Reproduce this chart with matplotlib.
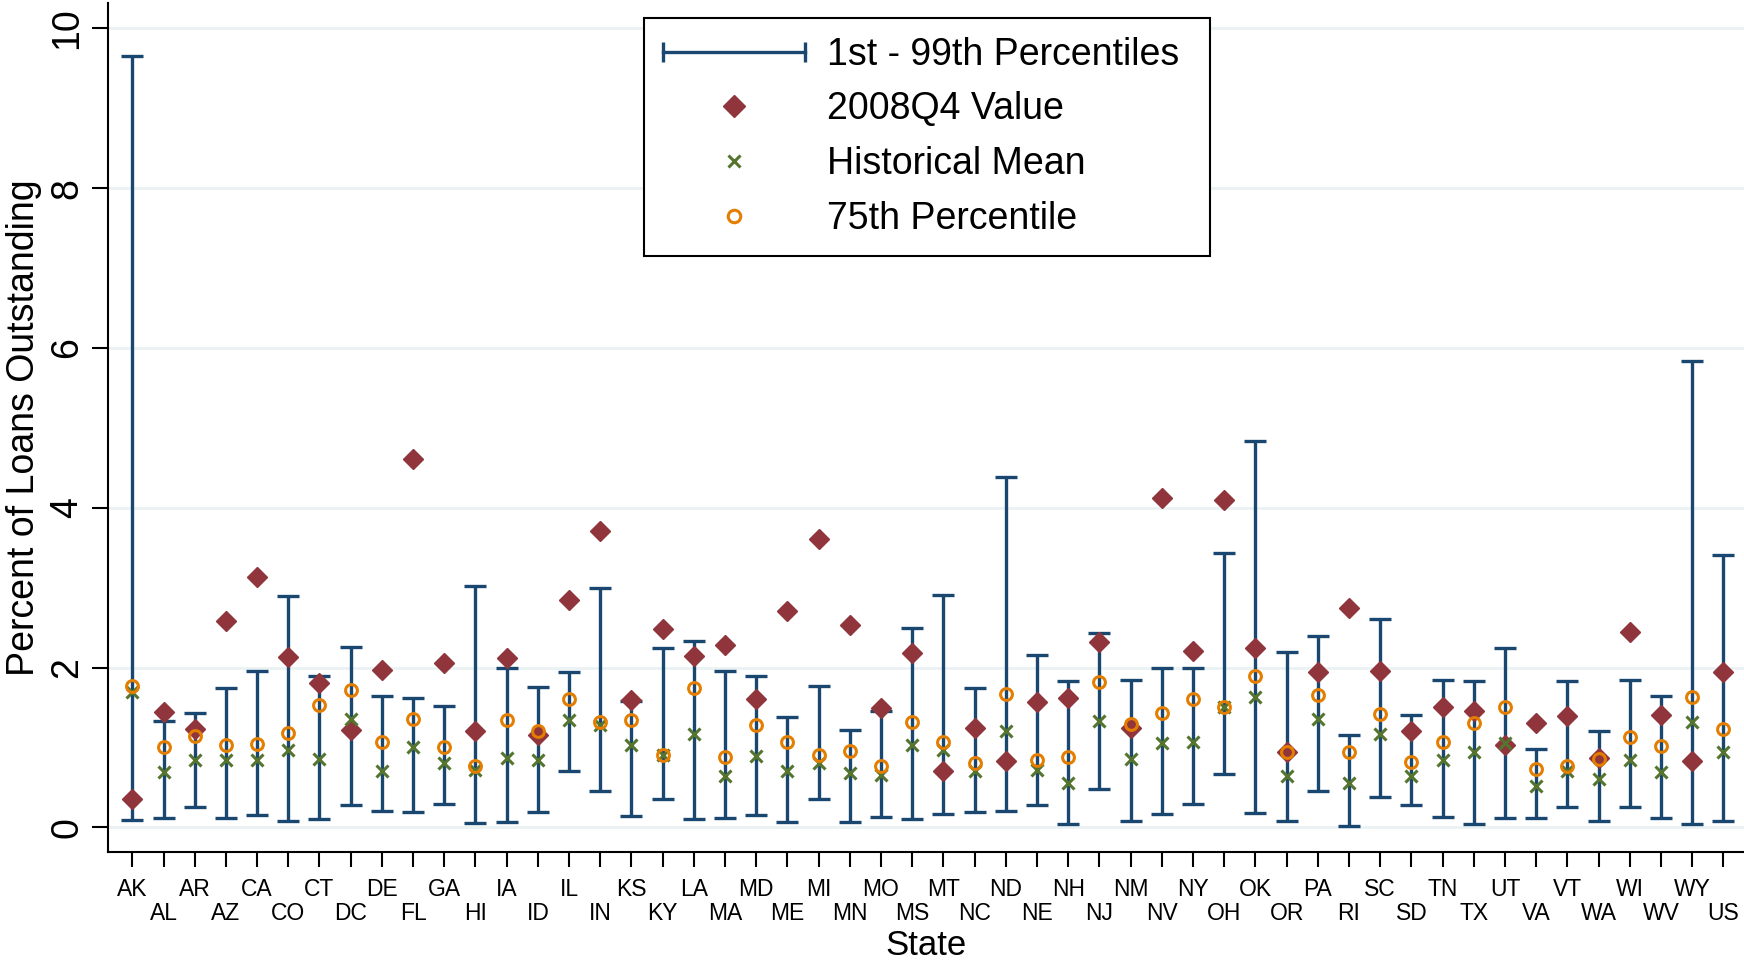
import numpy as np
import matplotlib
matplotlib.use("Agg")
import matplotlib.pyplot as plt
from matplotlib.lines import Line2D
from matplotlib.legend_handler import HandlerLine2D

plt.rcParams['font.family'] = ['Liberation Sans', 'DejaVu Sans']

# Estados (ordem do eixo x)
states = ['AK', 'AL', 'AR', 'AZ', 'CA', 'CO', 'CT', 'DC', 'DE', 'FL', 'GA', 'HI', 'IA',
          'ID', 'IL', 'IN', 'KS', 'KY', 'LA', 'MA', 'MD', 'ME', 'MI', 'MN', 'MO', 'MS',
          'MT', 'NC', 'ND', 'NE', 'NH', 'NJ', 'NM', 'NV', 'NY', 'OH', 'OK', 'OR', 'PA',
          'RI', 'SC', 'SD', 'TN', 'TX', 'UT', 'VA', 'VT', 'WA', 'WI', 'WV', 'WY', 'US']

# Percentil 99 (topo da barra)
p99 = [9.65, 1.33, 1.43, 1.74, 1.96, 2.89, 1.90, 2.26, 1.64, 1.62, 1.52, 3.02, 2.00,
       1.76, 1.94, 2.99, 1.58, 2.24, 2.33, 1.96, 1.90, 1.38, 1.77, 1.22, 1.46, 2.49,
       2.91, 1.74, 4.39, 2.16, 1.83, 2.43, 1.84, 2.00, 2.00, 3.43, 4.84, 2.19, 2.40,
       1.15, 2.61, 1.40, 1.84, 1.83, 2.25, 0.98, 1.83, 1.21, 1.85, 1.64, 5.84, 3.41]
# Percentil 1 (base da barra)
p1 = [0.09, 0.12, 0.25, 0.12, 0.15, 0.08, 0.10, 0.28, 0.21, 0.19, 0.29, 0.05, 0.07,
      0.19, 0.70, 0.45, 0.14, 0.36, 0.10, 0.12, 0.15, 0.07, 0.35, 0.07, 0.13, 0.10,
      0.17, 0.19, 0.21, 0.28, 0.04, 0.48, 0.08, 0.17, 0.29, 0.67, 0.18, 0.08, 0.45,
      0.02, 0.38, 0.28, 0.13, 0.04, 0.12, 0.12, 0.25, 0.08, 0.26, 0.12, 0.04, 0.08]
# Valor 2008Q4
q4_2008 = [0.35, 1.44, 1.23, 2.58, 3.13, 2.13, 1.81, 1.22, 1.97, 4.61, 2.06, 1.21, 2.12,
           1.16, 2.85, 3.71, 1.59, 2.48, 2.14, 2.28, 1.60, 2.71, 3.61, 2.53, 1.49, 2.18,
           0.71, 1.24, 0.83, 1.57, 1.62, 2.32, 1.24, 4.12, 2.21, 4.10, 2.25, 0.94, 1.95,
           2.75, 1.96, 1.21, 1.50, 1.45, 1.03, 1.30, 1.39, 0.87, 2.45, 1.40, 0.83, 1.94]
# Média histórica
hist_mean = [1.70, 0.69, 0.84, 0.84, 0.84, 0.97, 0.86, 1.35, 0.71, 1.00, 0.81, 0.72, 0.87,
             0.84, 1.34, 1.28, 1.03, 0.91, 1.17, 0.64, 0.89, 0.71, 0.81, 0.68, 0.65, 1.03,
             0.97, 0.70, 1.20, 0.72, 0.56, 1.33, 0.86, 1.06, 1.07, 1.50, 1.63, 0.64, 1.35,
             0.56, 1.17, 0.64, 0.84, 0.94, 1.05, 0.52, 0.70, 0.61, 0.84, 0.69, 1.32, 0.94]
# Percentil 75
p75 = [1.77, 1.00, 1.14, 1.03, 1.04, 1.18, 1.53, 1.72, 1.07, 1.35, 1.01, 0.77, 1.34,
       1.20, 1.61, 1.32, 1.34, 0.91, 1.74, 0.88, 1.28, 1.07, 0.91, 0.95, 0.77, 1.32,
       1.07, 0.81, 1.67, 0.84, 0.88, 1.82, 1.29, 1.43, 1.60, 1.50, 1.90, 0.94, 1.66,
       0.94, 1.42, 0.82, 1.07, 1.30, 1.51, 0.73, 0.77, 0.86, 1.13, 1.02, 1.63, 1.23]

navy = '#1a476f'
maroon = '#90353b'
green = '#55752f'
orange = '#e37e00'
grid_color = '#eaf2f3'

x = np.arange(len(states))
p1 = np.array(p1)
p99 = np.array(p99)

fig = plt.figure(figsize=(17.44, 9.61), dpi=100)
ax = fig.add_axes([108 / 1744, 1 - 851.7 / 961, 1 - 108 / 1744, (851.7 - 3) / 961])

# Barras de percentis 1-99
ax.errorbar(x, p1, yerr=[np.zeros_like(p1), p99 - p1], fmt='none', ecolor=navy,
            elinewidth=2.4, capsize=8, capthick=2.4, zorder=3)
ax.plot(x, q4_2008, linestyle='none', marker='D', markersize=10, color=maroon, zorder=4)
ax.plot(x, hist_mean, linestyle='none', marker='x', markersize=8, mew=2.2, color=green, zorder=5)
ax.plot(x, p75, linestyle='none', marker='o', markersize=8.5, mew=2.2, mfc='none', mec=orange, zorder=6)

# Eixos
ax.set_xlim(-0.779, 51.66)
ax.set_ylim(-0.305, 10.317)
ax.set_yticks(np.arange(0, 11, 2))
ax.yaxis.grid(True, color=grid_color, linewidth=2)
ax.set_axisbelow(True)
for s in ['top', 'right']:
    ax.spines[s].set_visible(False)
for s in ['left', 'bottom']:
    ax.spines[s].set_linewidth(1.5)

ax.set_xticks(x[::2])
ax.set_xticklabels(states[::2])
ax.set_xticks(x[1::2], minor=True)
ax.set_xticklabels(states[1::2], minor=True)
ax.tick_params(axis='x', which='major', length=11, width=1.5, pad=8, labelsize=16.5)
ax.tick_params(axis='x', which='minor', length=11, width=1.5, pad=25, labelsize=16.5)
ax.tick_params(axis='y', length=11.5, width=1.5, pad=5, labelsize=27, labelrotation=90)
for lab in ax.get_yticklabels():
    lab.set_va('center')

ax.set_ylabel('Percent of Loans Outstanding', fontsize=27)
ax.yaxis.set_label_coords(-0.0403, 0.5)
ax.set_xlabel('State', fontsize=25)
ax.xaxis.set_label_coords(0.5, -0.091)

# Legenda
h_bar = Line2D([], [], color=navy, lw=2.4, marker='|', markersize=14, mew=2.4)
h_q4 = Line2D([], [], linestyle='none', marker='D', markersize=11, color=maroon)
h_mean = Line2D([], [], linestyle='none', marker='x', markersize=8, mew=2.2, color=green)
h_p75 = Line2D([], [], linestyle='none', marker='o', markersize=9, mew=2.2, mfc='none', mec=orange)
leg = ax.legend([h_bar, h_q4, h_mean, h_p75],
                ['1st - 99th Percentiles', '2008Q4 Value', 'Historical Mean', '75th Percentile'],
                handler_map={h_bar: HandlerLine2D(numpoints=2, marker_pad=0),
                             h_q4: HandlerLine2D(numpoints=1),
                             h_mean: HandlerLine2D(numpoints=1),
                             h_p75: HandlerLine2D(numpoints=1)},
                loc='upper left', mode='expand',
                bbox_to_anchor=(644 / 1744, 1 - 247 / 961, (1210 - 644) / 1744, (247 - 18) / 961),
                bbox_transform=fig.transFigure, borderaxespad=0,
                fontsize=27, handlelength=3.78, handletextpad=0.59, borderpad=0.5,
                labelspacing=0.5, fancybox=False, framealpha=1, edgecolor='black')
leg.get_frame().set_linewidth(1.5)

fig.savefig('out.png', dpi=100)
